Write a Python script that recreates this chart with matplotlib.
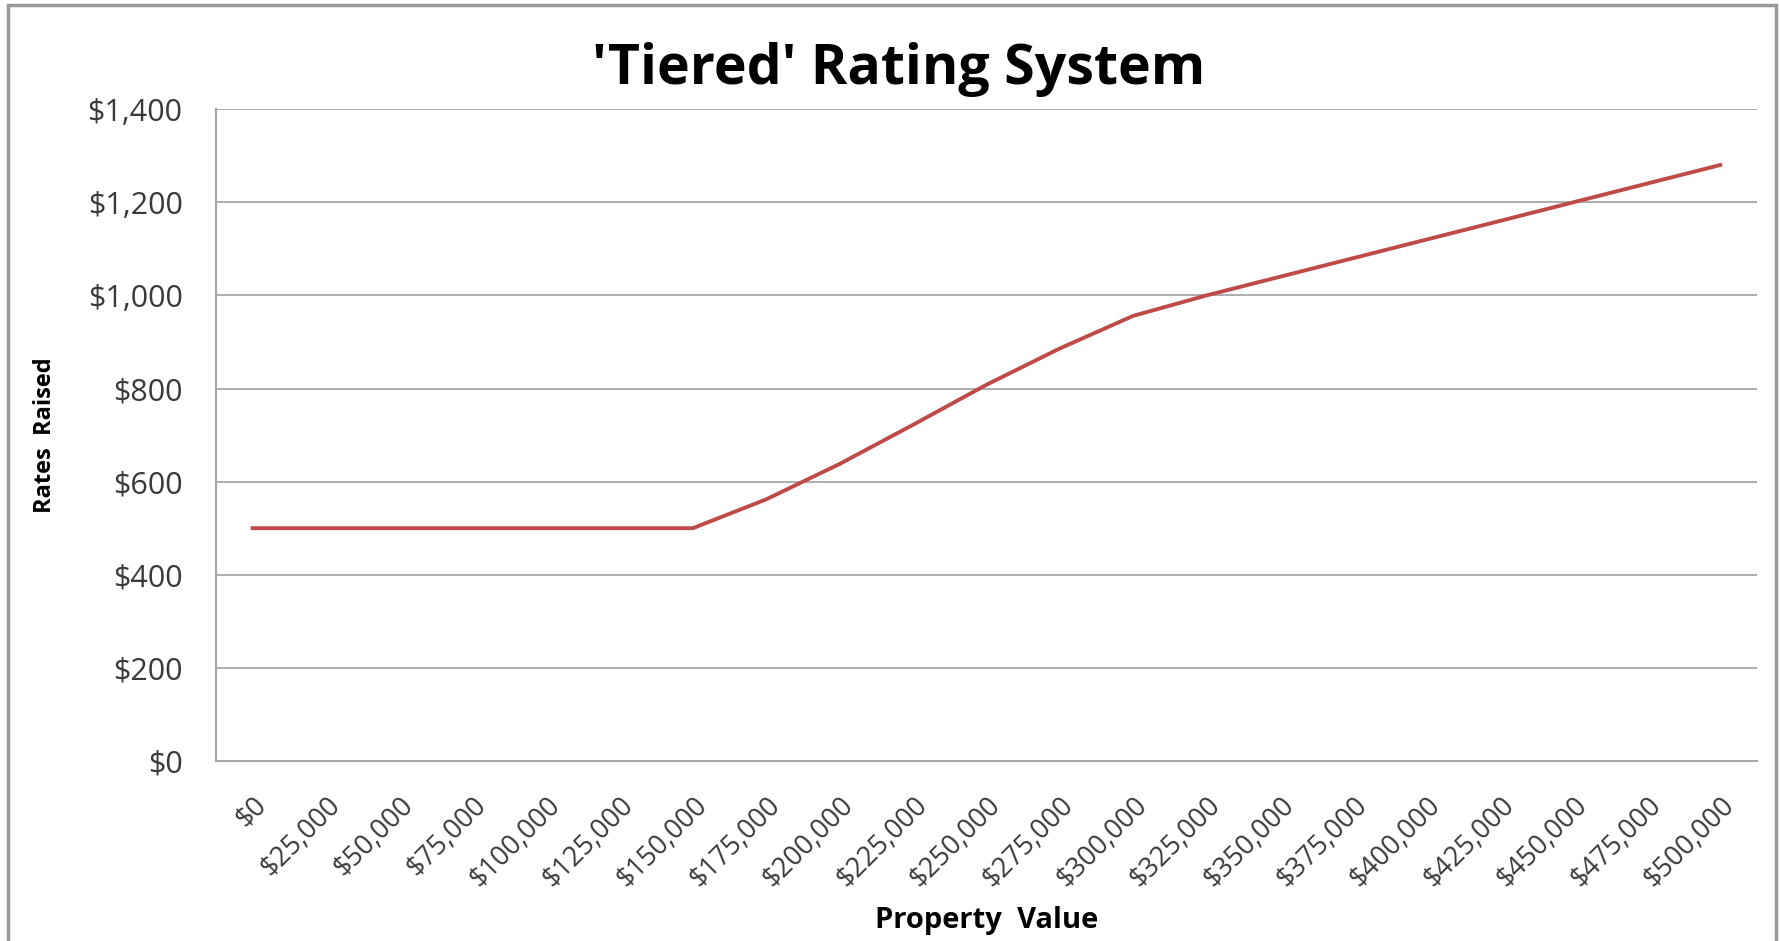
import matplotlib
matplotlib.use('Agg')
import matplotlib.pyplot as plt
from matplotlib.patches import Rectangle
from matplotlib.ticker import FuncFormatter

# property value bands and rates raised for each
property_values = [0, 25000, 50000, 75000, 100000, 125000, 150000, 175000,
                   200000, 225000, 250000, 275000, 300000, 325000, 350000,
                   375000, 400000, 425000, 450000, 475000, 500000]
rates_raised = [500, 500, 500, 500, 500, 500, 500, 562,
                638, 722, 808, 886, 956, 1000, 1040,
                1080, 1120, 1160, 1200, 1240, 1280]
y_ticks = [0, 200, 400, 600, 800, 1000, 1200, 1400]

x_labels = ["${:,}".format(v) for v in property_values]

plt.rcParams['font.family'] = ['Open Sans', 'DejaVu Sans']

fig = plt.figure(figsize=(17.8, 9.41), dpi=100)
fig.patch.set_facecolor("#FFFFFF")

# chart border
fig.patches.append(Rectangle((0.0045, -0.01), 0.993, 1.005, transform=fig.transFigure,
                             fill=False, edgecolor="#9a9a9a", linewidth=2.5))

ax = fig.add_axes([0.1213, 0.1913, 0.8657, 0.6927])

pos = list(range(len(property_values)))
ax.plot(pos, rates_raised, color="#BE4B48", linewidth=2.8, solid_joinstyle='round')

ax.set_xlim(-0.5, len(pos) - 0.5)
ax.set_ylim(0, 1400)
ax.set_yticks(y_ticks)
ax.yaxis.set_major_formatter(FuncFormatter(lambda v, _: "${:,.0f}".format(v)))
ax.grid(axis='y', color="#a6a6a6", linewidth=1.3)
ax.set_axisbelow(True)

ax.set_xticks(pos)
ax.set_xticklabels(x_labels, rotation=45, ha='right', va='top',
                   rotation_mode='anchor', fontsize=19.5, color="#3a3a3a")
ax.tick_params(axis='x', length=0, pad=22)
ax.tick_params(axis='y', length=0, pad=24, labelsize=22, labelcolor="#3a3a3a")

for side in ('top', 'right'):
    ax.spines[side].set_visible(False)
for side in ('left', 'bottom'):
    ax.spines[side].set_color("#a6a6a6")
    ax.spines[side].set_linewidth(1.5)

ax.set_xlabel("Property  Value", fontsize=21, fontweight='bold', labelpad=9)
ax.set_ylabel("Rates  Raised", fontsize=17, fontweight='bold', labelpad=22)

fig.text(0.505, 0.926, "'Tiered' Rating System", ha='center', va='center',
         fontsize=40, fontweight='bold', color="#000000")

plt.savefig("out.png", dpi=100, facecolor=fig.get_facecolor())
plt.close()
